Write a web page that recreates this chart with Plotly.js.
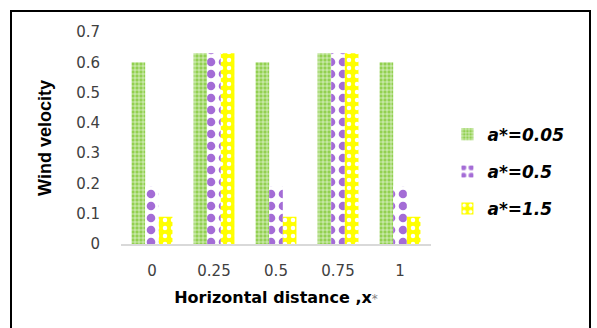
<!DOCTYPE html>
<html>
<head>
<meta charset="utf-8">
<script src="https://cdn.plot.ly/plotly-3.0.1.min.js"></script>
<style>
  html, body { margin: 0; padding: 0; background: #fff; }
  #wrap { position: relative; width: 597px; height: 328px; overflow: hidden; }
  #chart { width: 597px; height: 328px; }
  #frame { position: absolute; left: 10px; top: 10px; width: 577px; height: 340px;
           border: 2px solid #000; pointer-events: none; }
</style>
</head>
<body>
<div id="wrap">
  <div id="chart"></div>
  <div id="frame"></div>
</div>
<script>
// Horizontal distance x* (categories)
const distances = ['0', '0.25', '0.5', '0.75', '1'];
// Wind velocity for each a* value
const velA005 = [0.60, 0.63, 0.60, 0.63, 0.60];
const velA05  = [0.19, 0.63, 0.19, 0.63, 0.19];
const velA15  = [0.09, 0.63, 0.09, 0.63, 0.09];
const seriesNames = ['a*=0.05', 'a*=0.5', 'a*=1.5'];
const yTicks = [0, 0.1, 0.2, 0.3, 0.4, 0.5, 0.6, 0.7];

const traces = [
  {
    type: 'bar', name: seriesNames[0], x: distances, y: velA005, legendgroup: 'g1',
    marker: { color: '#92D050', line: { width: 0 },
      pattern: { shape: '+', fgcolor: '#ffffff', bgcolor: '#92D050', size: 4, solidity: 0.25 } }
  },
  {
    type: 'bar', name: seriesNames[1], x: distances, y: velA05, legendgroup: 'g2',
    marker: { color: '#A46CD6', line: { width: 0 },
      pattern: { shape: '.', fgcolor: '#A46CD6', bgcolor: '#ffffff', size: 12, solidity: 0.4 } }
  },
  {
    type: 'bar', name: seriesNames[2], x: distances, y: velA15, legendgroup: 'g3',
    marker: { color: '#FFFF00', line: { width: 0 },
      pattern: { shape: '.', fgcolor: '#ffffff', bgcolor: '#FFFF00', size: 8, solidity: 0.25 } }
  }
];

const layout = {
  width: 597, height: 328,
  margin: { l: 121, r: 166, t: 32, b: 84 },
  paper_bgcolor: '#ffffff', plot_bgcolor: '#ffffff',
  barmode: 'group', bargap: 0.34, bargroupgap: 0,
  showlegend: true,
  legend: {
    x: 1.053, xanchor: 'left', y: 0.6, yanchor: 'top',
    font: { family: 'DejaVu Sans', size: 17, color: '#000', weight: 'bold', style: 'italic' },
    tracegroupgap: 12, bgcolor: 'rgba(0,0,0,0)'
  },
  xaxis: {
    type: 'category', categoryorder: 'array', categoryarray: distances,
    showline: true, linecolor: '#D9D9D9', linewidth: 1.5,
    showgrid: false, zeroline: false, ticks: '',
    ticklabelstandoff: 12,
    tickfont: { family: 'DejaVu Sans', size: 15, color: '#404040' },
    title: { text: 'Horizontal distance ,x<span style="font-weight:normal;color:#808080;font-size:12px">*</span>',
             font: { family: 'DejaVu Sans', size: 16, color: '#000', weight: 'bold' }, standoff: 13 },
    fixedrange: true
  },
  yaxis: {
    range: [0, 0.7], tickvals: yTicks, ticktext: yTicks.map(String),
    showline: false, showgrid: false, zeroline: false, ticks: '',
    ticklabelstandoff: 20,
    tickfont: { family: 'DejaVu Sans', size: 15, color: '#404040' },
    title: { text: 'Wind velocity', font: { family: 'Liberation Sans', size: 18, color: '#000', weight: 'bold' }, standoff: 19 },
    fixedrange: true
  }
};

Plotly.newPlot('chart', traces, layout, { displayModeBar: false, staticPlot: true });
</script>
</body>
</html>
